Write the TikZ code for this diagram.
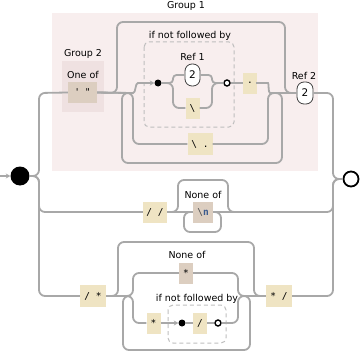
\documentclass[tikz,border=0pt]{standalone}
\usepackage{fontspec}
\setmainfont{DejaVu Sans}
\newfontfamily\boxfont{DejaVu Sans Mono}
\usetikzlibrary{arrows.meta}
\definecolor{wire}{HTML}{A8A8A8}
\definecolor{grpone}{HTML}{F8EEEE}
\definecolor{grptwo}{HTML}{EFE1E1}
\definecolor{litfill}{HTML}{EFE4C3}
\definecolor{clsfill}{HTML}{DCCEC0}
\definecolor{dashc}{HTML}{BEBEBE}
\definecolor{nblue}{HTML}{3B5B8E}
\tikzset{
  wire/.style={draw=wire, line width=1.8pt, rounded corners=6pt},
  tightwire/.style={wire, rounded corners=3.5pt},
  arrowin/.style={-{Stealth[length=4.5pt,width=5pt]}},
  lit/.style={fill=litfill, minimum width=14pt, minimum height=21pt, inner sep=0pt,
    font=\boxfont\fontsize{9.5}{10}\selectfont},
  cls/.style={lit, fill=clsfill},
  refpill/.style={draw=black!75, fill=white, rounded corners=7pt, minimum width=15pt,
    minimum height=22pt, inner sep=0pt, line width=0.8pt, font=\fontsize{10.5}{11}\selectfont},
  lbl/.style={inner sep=0pt, font=\fontsize{9.5}{10}\selectfont},
  dashbox/.style={draw=dashc, dashed, dash pattern=on 4pt off 3pt, rounded corners=5pt, line width=1pt},
  soliddot/.style={circle, fill=black, minimum size=7pt, inner sep=0pt},
  hollowdot/.style={circle, draw=black, fill=white, line width=1.4pt, minimum size=6pt, inner sep=0pt}
}
\begin{document}
\begin{tikzpicture}[x=1pt,y=-1pt]
\useasboundingbox (0,0) rectangle (361,353);
% group backgrounds
\fill[grpone] (52,13) rectangle (318,171);
\node[lbl] (g1lbl) at (186,6) {Group 1};
\fill[grptwo] (62,61) rectangle (104,112);
\node[lbl] (g2lbl) at (83,54) {Group 2};
\node[lbl] (oneof) at (83,75) {One of};
% dashed boxes
\draw[dashbox] (144,42) rectangle (234,127);
\node[lbl] (nfb1) at (190,36) {if not followed by};
\draw[dashbox] (168,305) rectangle (226,343);
\node[lbl] (nfb2) at (197,299) {if not followed by};
% terminals
\node[circle, fill=black, minimum size=19pt, inner sep=0pt] (start) at (20,176) {};
\node[circle, draw=black, fill=white, line width=1.8pt, minimum size=15pt, inner sep=0pt] (end) at (351,179) {};
\coordinate (in) at (0,176);
% group 1 nodes
\node[cls, minimum width=29pt] (quotes) at (82.5,92.5) {\char"0027\hspace{5pt}\char"0022};
\node[soliddot] (dot1) at (158,83) {};
\node[refpill] (pill1) at (192.5,75) {2};
\node[lbl] (ref1lbl) at (192.5,57) {Ref 1};
\node[lit] (bs1) at (192.5,108) {\textbackslash};
\node[hollowdot] (hol1) at (227,83) {};
\node[lit] (anyc) at (250,83) {.};
\node[lit, minimum width=25pt, minimum height=22pt] (bsdot) at (200,144) {\textbackslash\ .};
\node[refpill, minimum width=16pt] (ref2) at (305,93) {2};
\node[lbl] (ref2lbl) at (304,76) {Ref 2};
% middle nodes
\node[lit, minimum width=24pt] (ss) at (155,212) {/ /};
\node[cls, minimum width=20pt] (nl) at (203,212) {\textcolor{black!70}{\textbackslash}\textcolor{nblue}{\bfseries n}};
\node[lbl] (noneof1) at (203,195) {None of};
% bottom nodes
\node[lit, minimum width=26pt, minimum height=22pt] (slst) at (93,296) {/ *};
\node[lit, minimum width=26pt, minimum height=22pt] (stsl) at (279,296) {* /};
\node[cls] (star1) at (186,273) {*};
\node[lbl] (noneof2) at (187,255) {None of};
\node[lit] (star2) at (153.5,323) {*};
\node[soliddot] (dot2) at (182,323) {};
\node[lit] (slash) at (200,323) {/};
\node[hollowdot] (hol2) at (218,323) {};
% entry
\draw[wire, arrowin] (in) -- (start.west);
\draw[wire] (start.east) -- (39,176) -- (39,93) -- (quotes.west);
\draw[wire] (start.east) -- (39,176) -- (39,212) -- (ss.west);
\draw[wire] (start.east) -- (39,176) -- (39,296) -- (slst.west);
% group 1 wiring
\draw[wire] (quotes.east) -- (117,93) -- (117,22) -- (285,22) -- (285,93) -- (ref2.west);
\draw[wire] (272,93) -- (282,93) -- (282,163) -- (122,163) -- (122,93) -- (130,93);
\draw[wire] (quotes.east) -- (133,93) -- (133,144) -- (bsdot.west);
\draw[wire] (bsdot.east) -- (268,144) -- (268,93) -- (ref2.west);
\draw[wire, arrowin] (quotes.east) -- (127,93) .. controls (136,93) and (135,83) .. (144,83) -- (dot1.west);
\draw[tightwire] (dot1.east) -- (173,83) -- (173,75) -- (pill1.west);
\draw[wire] (dot1.east) -- (173,83) -- (173,108) -- (bs1.west);
\draw[tightwire] (pill1.east) -- (212,75) -- (212,83) -- (hol1.west);
\draw[wire] (bs1.east) -- (212,108) -- (212,83) -- (hol1.west);
\draw[wire] (hol1.east) -- (anyc.west);
\draw[wire] (anyc.east) -- (262,83) .. controls (269,83) and (268,93) .. (276,93) -- (ref2.west);
\draw[wire] (ref2.east) -- (333,93) -- (333,179) -- (end.west);
% middle wiring
\draw[wire] (ss.east) -- (178,212) -- (178,180) -- (228,180) -- (228,212) -- (333,212) -- (333,179) -- (end.west);
\draw[wire] (ss.east) -- (nl.west);
\draw[wire] (nl.east) -- (236,212);
\draw[wire] (nl.east) -- (221,212) -- (221,232) -- (184,232) -- (184,212) -- (nl.west);
% bottom wiring
\draw[wire] (slst.east) -- (118,296) -- (118,242) -- (254,242) -- (254,296) -- (stsl.west);
\draw[wire] (241,296) -- (250,296) -- (250,350) -- (123,350) -- (123,296) -- (131,296);
\draw[wire] (slst.east) -- (133,296) -- (133,273) -- (star1.west);
\draw[wire] (star1.east) -- (238,273) -- (238,296) -- (stsl.west);
\draw[wire] (slst.east) -- (133,296) -- (133,323) -- (star2.west);
\draw[wire, arrowin] (star2.east) -- (dot2.west);
\draw[wire] (dot2.east) -- (slash.west);
\draw[wire] (slash.east) -- (hol2.west);
\draw[wire] (hol2.east) -- (238,323) -- (238,296) -- (stsl.west);
\draw[wire] (stsl.east) -- (333,296) -- (333,179) -- (end.west);
\end{tikzpicture}
\end{document}
